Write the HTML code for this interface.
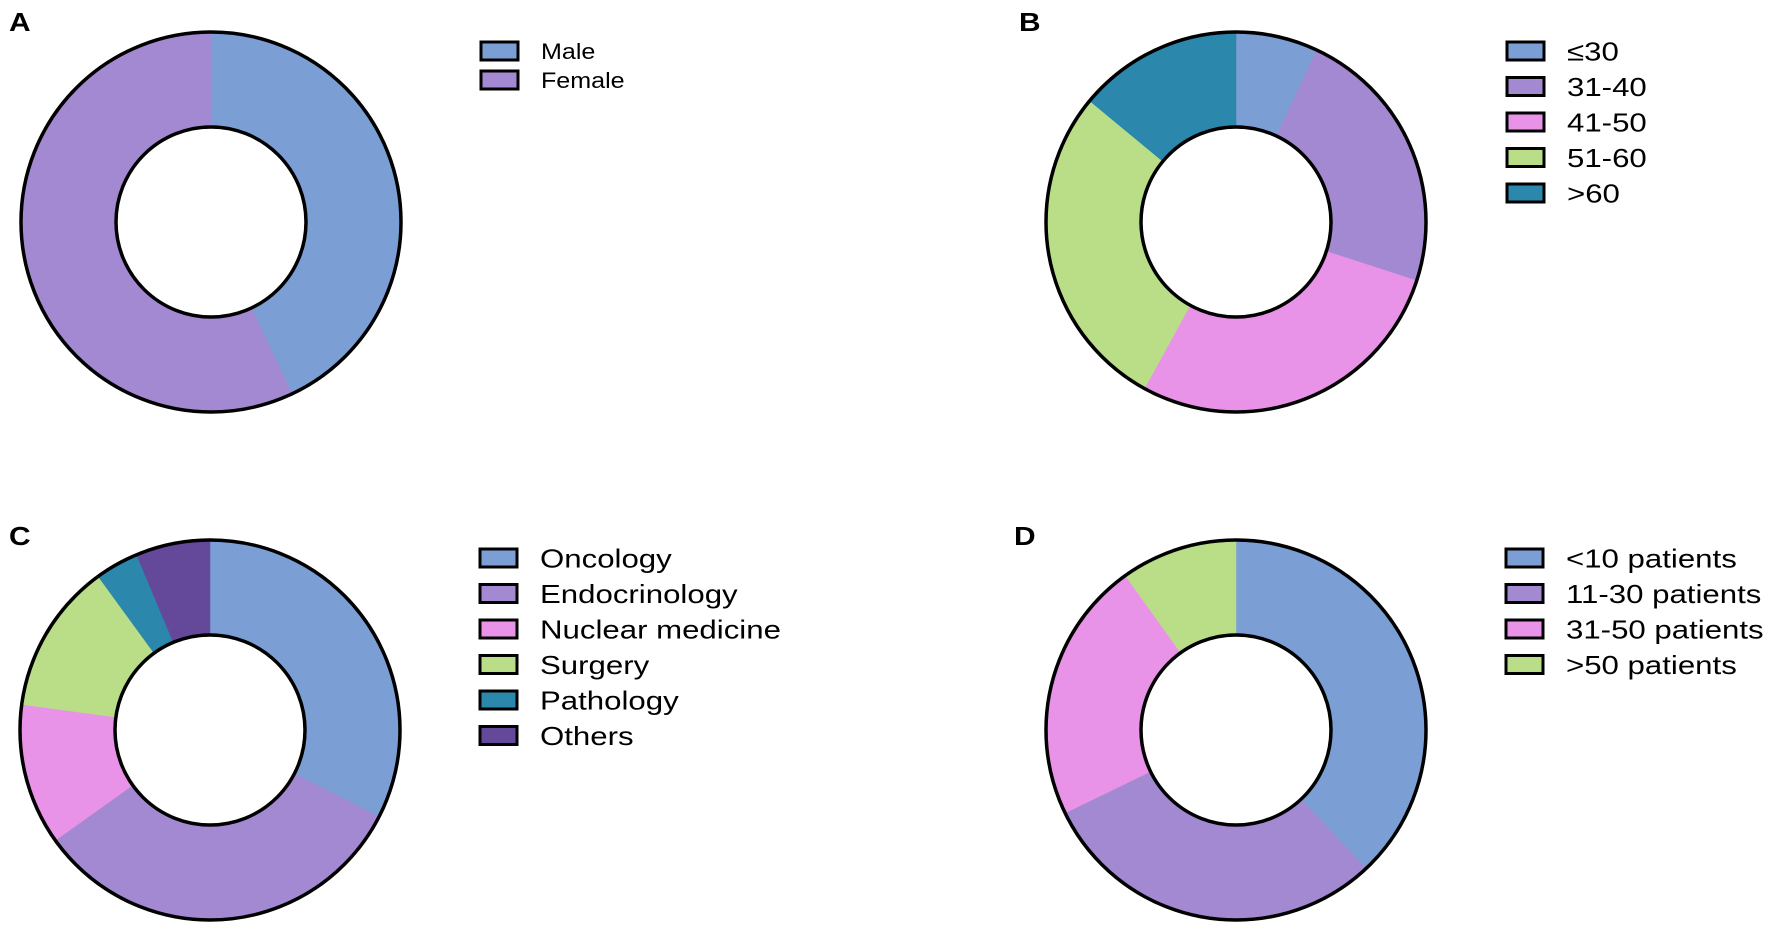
<!DOCTYPE html>
<html><head><meta charset="utf-8"><style>
html,body{margin:0;padding:0;background:#fff}
svg{display:block;font-family:"Liberation Sans",Arial,sans-serif}
</style></head><body>
<svg id="fig" width="1772" height="932" viewBox="0 0 1772 932"></svg>
<script>
const labelsA = ["Male","Female"];
const valuesA = [43,57];
const labelsB = ["≤30","31-40","41-50","51-60",">60"];
const valuesB = [7,23,28,28,14];
const labelsC = ["Oncology","Endocrinology","Nuclear medicine","Surgery","Pathology","Others"];
const valuesC = [32.5,32.5,12,12.8,3.7,6.3];
const labelsD = ["<10 patients","11-30 patients","31-50 patients",">50 patients"];
const valuesD = [38,29.8,22.3,9.9];
const colors = ["#7b9fd4","#a389d1","#e892e8","#bade88","#2b87ac","#64499a"];

const NS="http://www.w3.org/2000/svg";
const svg=document.getElementById('fig');
function mk(tag,attrs,parent){const e=document.createElementNS(NS,tag);for(const k in attrs)e.setAttribute(k,attrs[k]);(parent||svg).appendChild(e);return e;}
function pt(cx,cy,r,a){return [cx+r*Math.sin(a),cy-r*Math.cos(a)];}

function donut(id,letter,lx,ly,cx,cy,R,r,labels,values,legX,legY,step,fs,sx,bw,bh){
  const g=mk('g',{});
  
  
  const t=mk('text',{x:0,y:0,transform:`translate(${lx},${ly}) scale(1.15,1)`,'font-size':26,'font-weight':'bold',fill:'#000'},g);
  t.textContent=letter;
  
  
  const total=values.reduce((a,b)=>a+b,0);
  let a0=0;
  values.forEach((v,i)=>{
    const a1=a0+v/total*2*Math.PI;
    const large=(a1-a0)>Math.PI?1:0;
    const p1=pt(cx,cy,R,a0),p2=pt(cx,cy,R,a1),p3=pt(cx,cy,r,a1),p4=pt(cx,cy,r,a0);
    const d=`M${p1[0]},${p1[1]} A${R},${R} 0 ${large} 1 ${p2[0]},${p2[1]} L${p3[0]},${p3[1]} A${r},${r} 0 ${large} 0 ${p4[0]},${p4[1]} Z`;
    const s=mk('path',{d:d,fill:colors[i],stroke:colors[i],'stroke-width':0.5},g);
    
    
    a0=a1;
  });
  const o=mk('circle',{cx:cx,cy:cy,r:R,fill:'none',stroke:'#000','stroke-width':3.5},g);
  
  
  const inn=mk('circle',{cx:cx,cy:cy,r:r,fill:'#fff',stroke:'#000','stroke-width':3.5},g);
  
  
  labels.forEach((lab,i)=>{
    const y=legY+i*step;
    const le=mk('g',{},g);
    
    
    mk('rect',{x:legX,y:y-bh/2,width:bw,height:bh,fill:colors[i],stroke:'#000','stroke-width':3},le);
    const tx=mk('text',{x:0,y:0,transform:`translate(${legX+bw+23},${y+fs*0.36}) scale(${sx},1)`,'font-size':fs,fill:'#000'},le);
    tx.textContent=lab;
  });
}
donut('a','A',9,31,211,222,190,95,labelsA,valuesA,481,51,29,22,1.14,37,18);
donut('b','B',1019,31,1236,222,190,95,labelsB,valuesB,1507,51,35.5,26,1.2,37,18);
donut('c','C',9,545,210,730,190,95,labelsC,valuesC,480,558,35.5,26,1.2,37,18);
donut('d','D',1014,545,1236,730,190,95,labelsD,valuesD,1506,558,35.5,26,1.2,37,18);
</script>
</body></html>
